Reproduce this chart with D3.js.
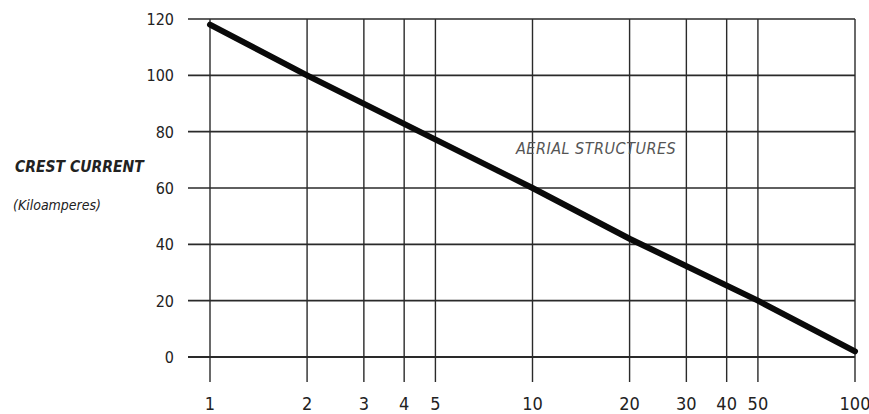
<!DOCTYPE html>
<html>
<head>
<meta charset="utf-8">
<script src="https://cdn.jsdelivr.net/npm/d3@7"></script>
<style>
  body { margin: 0; background: #fff; }
  text { font-family: "DejaVu Sans Condensed", "DejaVu Sans", sans-serif; font-stretch: condensed; fill: #222; }
</style>
</head>
<body>
<div id="main"></div>
<script>
const ctx = {
    w: 869,
    h: 414,
    margin: { top: 19, right: 14, bottom: 57, left: 210 },
};

// valeurs
const xTicks = [1, 2, 3, 4, 5, 10, 20, 30, 40, 50, 100];
const yTicks = [0, 20, 40, 60, 80, 100, 120];
const lineX = [1, 2, 10, 20, 50, 100];
const lineY = [118, 100, 60, 42, 20, 2];

const svg = d3.select("#main").append("svg")
    .attr("width", ctx.w)
    .attr("height", ctx.h);

const xScale = d3.scaleLog()
    .domain([1, 100])
    .range([ctx.margin.left, ctx.w - ctx.margin.right]);
const yScale = d3.scaleLinear()
    .domain([0, 120])
    .range([ctx.h - ctx.margin.bottom, ctx.margin.top]);

const x0 = xScale(1), x1 = xScale(100);
const yBottom = yScale(0);

// grille horizontale (avec petit dépassement à gauche)
svg.append("g").selectAll("line")
    .data(yTicks)
    .enter().append("line")
    .attr("x1", x0 - 22)
    .attr("x2", x1)
    .attr("y1", d => yScale(d))
    .attr("y2", d => yScale(d))
    .attr("stroke", "#2a2a2a")
    .attr("stroke-width", d => d === 0 ? 2.2 : 1.6);

// grille verticale (dépasse sous l'axe 0)
svg.append("g").selectAll("line")
    .data(xTicks)
    .enter().append("line")
    .attr("x1", d => xScale(d))
    .attr("x2", d => xScale(d))
    .attr("y1", yScale(120))
    .attr("y2", yBottom + 25)
    .attr("stroke", "#2a2a2a")
    .attr("stroke-width", 1.4);

// étiquettes Y
svg.append("g").selectAll("text")
    .data(yTicks)
    .enter().append("text")
    .attr("x", x0 - 36)
    .attr("y", d => yScale(d) + 6)
    .style("text-anchor", "end")
    .style("font-size", "16px")
    .text(d => d);

// étiquettes X
svg.append("g").selectAll("text")
    .data(xTicks)
    .enter().append("text")
    .attr("x", d => xScale(d))
    .attr("y", yBottom + 53)
    .style("text-anchor", "middle")
    .style("font-size", "18px")
    .text(d => d);

// courbe
const line = d3.line()
    .x(d => xScale(d[0]))
    .y(d => yScale(d[1]));

svg.append("path")
    .datum(lineX.map((x, i) => [x, lineY[i]]))
    .attr("d", line)
    .attr("fill", "none")
    .attr("stroke", "#0a0a0a")
    .attr("stroke-width", 6)
    .attr("stroke-linecap", "round");

// textes
svg.append("text")
    .attr("x", 15)
    .attr("y", 172)
    .style("font-size", "15.5px")
    .style("font-style", "italic")
    .style("font-weight", "bold")
    .text("CREST CURRENT");

svg.append("text")
    .attr("x", 13)
    .attr("y", 210)
    .style("font-size", "14px")
    .style("font-style", "italic")
    .text("(Kiloamperes)");

svg.append("text")
    .attr("x", 516)
    .attr("y", 154)
    .style("font-size", "16px")
    .style("font-style", "italic")
    .style("fill", "#555")
    .style("letter-spacing", "0.5px")
    .text("AERIAL STRUCTURES");
</script>
</body>
</html>
